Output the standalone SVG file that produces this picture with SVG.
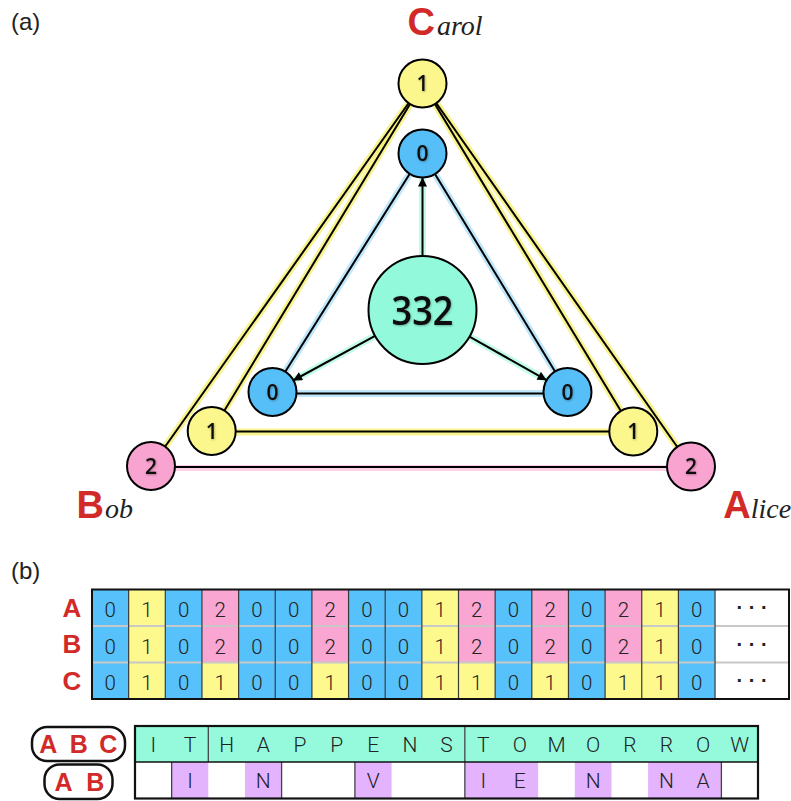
<svg xmlns="http://www.w3.org/2000/svg" width="791" height="801" viewBox="0 0 791 801">
<defs>
<marker id="arr" viewBox="0 0 10 10" refX="10" refY="5" markerWidth="11" markerHeight="9" markerUnits="userSpaceOnUse" orient="auto"><path d="M0,0 L10,5 L0,10 z" fill="#000"/></marker>
<filter id="sh" x="-20%" y="-20%" width="140%" height="140%"><feDropShadow dx="0.6" dy="0.8" stdDeviation="0.8" flood-color="#000" flood-opacity="0.35"/></filter>
</defs>
<style>
.lbl{font-family:"Liberation Sans",Arial,sans-serif;font-size:24px;fill:#222}
.nd{stroke:#000;stroke-width:2}
.ny{fill:#fcf78c}.nb{fill:#56bff8}.np{fill:#f9a3d0}.nm{fill:#92fadb}
.nt{font-family:"Open Sans","Noto Sans",sans-serif;font-weight:600;font-size:21px;fill:#111;text-anchor:middle;filter:url(#sh)}
.big{font-family:"Liberation Sans",Arial,sans-serif;font-weight:bold;font-size:38px;fill:#d22a28}
.sub{font-family:"Liberation Serif","Times New Roman",serif;font-style:italic;font-size:28px;fill:#222}
.e{stroke:#000;stroke-width:2;fill:none}
.gy{stroke:#f6ef6a;stroke-width:7;opacity:0.75;fill:none}
.gb{stroke:#bfe6fb;stroke-width:7;fill:none}
.gp{stroke:#fbd2e6;stroke-width:6;fill:none}
.gm{stroke:#c3fbe9;stroke-width:7;fill:none}
.cb{fill:#56c1fb}.cy{fill:#fdf98d}.cp{fill:#f9a6d2}.cm{fill:#94fadb}.cu{fill:#e3b3fd}
.ct{font-family:Roboto,"Liberation Sans",sans-serif;font-weight:300;font-size:20.5px;fill:#222;text-anchor:middle}
.rl{font-family:"Liberation Sans",Arial,sans-serif;font-weight:bold;font-size:26px;fill:#d22a28;text-anchor:middle}
.pl{font-family:"Liberation Sans",Arial,sans-serif;font-weight:bold;font-size:25px;fill:#d22a28;text-anchor:middle}
.vd{stroke:#3a3a3a;stroke-width:1.2}
.hd{stroke:#c8c8c8;stroke-width:2}
.dots{font-family:"Liberation Sans",Arial,sans-serif;font-weight:bold;font-size:20px;fill:#222;text-anchor:middle}
</style>
<rect width="791" height="801" fill="#fff"/>
<text class="lbl" x="11" y="30">(a)</text>
<text class="lbl" x="11" y="578.5">(b)</text>

<g id="connectors">
<!-- glows -->
<line class="gy" x1="422.5" y1="83.5" x2="151" y2="466.5"/>
<line class="gy" x1="422.5" y1="83.5" x2="211.7" y2="431.5"/>
<line class="gy" x1="422.5" y1="83.5" x2="633.3" y2="431.5"/>
<line class="gy" x1="422.5" y1="83.5" x2="691" y2="466.5"/>
<line class="gy" x1="211.7" y1="432" x2="633.3" y2="432"/>
<line class="gp" x1="151" y1="468" x2="691" y2="468"/>
<line class="gb" x1="422.5" y1="153.5" x2="272.5" y2="392"/>
<line class="gb" x1="422.5" y1="153.5" x2="567.5" y2="392"/>
<line class="gb" x1="272.5" y1="393.5" x2="567.5" y2="393.5"/>
<line class="gm" x1="422.5" y1="256" x2="422.5" y2="178"/>
<line class="gm" x1="375.1" y1="335.8" x2="293.1" y2="380.5"/>
<line class="gm" x1="469.5" y1="336.6" x2="546.6" y2="380.2"/>
<!-- lines -->
<line class="e" x1="422.5" y1="83.5" x2="151" y2="466.5"/>
<line class="e" x1="422.5" y1="83.5" x2="211.7" y2="431.5"/>
<line class="e" x1="422.5" y1="83.5" x2="633.3" y2="431.5"/>
<line class="e" x1="422.5" y1="83.5" x2="691" y2="466.5"/>
<line class="e" x1="211.7" y1="431.5" x2="633.3" y2="431.5"/>
<line class="e" x1="151" y1="467" x2="691" y2="467"/>
<line class="e" x1="422.5" y1="153.5" x2="272.5" y2="392"/>
<line class="e" x1="422.5" y1="153.5" x2="567.5" y2="392"/>
<line class="e" x1="272.5" y1="393.5" x2="567.5" y2="393.5"/>
<line class="e" x1="422.5" y1="256" x2="422.5" y2="177.5" marker-end="url(#arr)"/>
<line class="e" x1="375.1" y1="335.8" x2="293.1" y2="380.5" marker-end="url(#arr)"/>
<line class="e" x1="469.5" y1="336.6" x2="546.6" y2="380.2" marker-end="url(#arr)"/>
</g>

<g id="carol1"><circle class="nd ny" cx="422.5" cy="83.5" r="24"/><text class="nt" x="422.5" y="91">1</text></g>
<g id="blueTop"><circle class="nd nb" cx="422.5" cy="153.5" r="24"/><text class="nt" x="422.5" y="161">0</text></g>
<g id="center332"><circle class="nd nm" cx="422.5" cy="310" r="54"/><text class="nt" x="422.5" y="325" style="font-size:40px" textLength="62" lengthAdjust="spacingAndGlyphs">332</text></g>
<g id="blueLeft"><circle class="nd nb" cx="272.5" cy="392" r="24"/><text class="nt" x="272.5" y="399.5">0</text></g>
<g id="blueRight"><circle class="nd nb" cx="567.5" cy="392" r="24"/><text class="nt" x="567.5" y="399.5">0</text></g>
<g id="yellowLeft"><circle class="nd ny" cx="211.7" cy="431" r="24"/><text class="nt" x="211.7" y="438.5">1</text></g>
<g id="yellowRight"><circle class="nd ny" cx="633.3" cy="431.5" r="24"/><text class="nt" x="633.3" y="439">1</text></g>
<g id="bob2"><circle class="nd np" cx="151" cy="466" r="24"/><text class="nt" x="151" y="473.5">2</text></g>
<g id="alice2"><circle class="nd np" cx="691" cy="466.5" r="24"/><text class="nt" x="691" y="474">2</text></g>

<g id="labelCarol"><text x="407.5" y="34.5"><tspan class="big">C</tspan><tspan class="sub" dx="2">arol</tspan></text></g>
<g id="labelBob"><text x="76.5" y="518"><tspan class="big">B</tspan><tspan class="sub" dx="1">ob</tspan></text></g>
<g id="labelAlice"><text x="723.3" y="518"><tspan class="big">A</tspan><tspan class="sub">lice</tspan></text></g>

<g id="tableB">
<text class="rl" x="72" y="616.5">A</text>
<text class="rl" x="72" y="653">B</text>
<text class="rl" x="72" y="689.5">C</text>
<rect x="92" y="589.5" width="697" height="109.5" fill="#fff"/>
<!-- row A -->
<rect class="cb" x="92" y="589.5" width="36.65" height="36.5"/>
<rect class="cy" x="128.65" y="589.5" width="36.65" height="36.5"/>
<rect class="cb" x="165.3" y="589.5" width="36.65" height="36.5"/>
<rect class="cp" x="201.95" y="589.5" width="36.65" height="36.5"/>
<rect class="cb" x="238.6" y="589.5" width="36.65" height="36.5"/>
<rect class="cb" x="275.25" y="589.5" width="36.65" height="36.5"/>
<rect class="cp" x="311.9" y="589.5" width="36.65" height="36.5"/>
<rect class="cb" x="348.55" y="589.5" width="36.65" height="36.5"/>
<rect class="cb" x="385.2" y="589.5" width="36.65" height="36.5"/>
<rect class="cy" x="421.85" y="589.5" width="36.65" height="36.5"/>
<rect class="cp" x="458.5" y="589.5" width="36.65" height="36.5"/>
<rect class="cb" x="495.15" y="589.5" width="36.65" height="36.5"/>
<rect class="cp" x="531.8" y="589.5" width="36.65" height="36.5"/>
<rect class="cb" x="568.45" y="589.5" width="36.65" height="36.5"/>
<rect class="cp" x="605.1" y="589.5" width="36.65" height="36.5"/>
<rect class="cy" x="641.75" y="589.5" width="36.65" height="36.5"/>
<rect class="cb" x="678.4" y="589.5" width="36.65" height="36.5"/>
<!-- row B -->
<rect class="cb" x="92" y="626" width="36.65" height="36.5"/>
<rect class="cy" x="128.65" y="626" width="36.65" height="36.5"/>
<rect class="cb" x="165.3" y="626" width="36.65" height="36.5"/>
<rect class="cp" x="201.95" y="626" width="36.65" height="36.5"/>
<rect class="cb" x="238.6" y="626" width="36.65" height="36.5"/>
<rect class="cb" x="275.25" y="626" width="36.65" height="36.5"/>
<rect class="cp" x="311.9" y="626" width="36.65" height="36.5"/>
<rect class="cb" x="348.55" y="626" width="36.65" height="36.5"/>
<rect class="cb" x="385.2" y="626" width="36.65" height="36.5"/>
<rect class="cy" x="421.85" y="626" width="36.65" height="36.5"/>
<rect class="cp" x="458.5" y="626" width="36.65" height="36.5"/>
<rect class="cb" x="495.15" y="626" width="36.65" height="36.5"/>
<rect class="cp" x="531.8" y="626" width="36.65" height="36.5"/>
<rect class="cb" x="568.45" y="626" width="36.65" height="36.5"/>
<rect class="cp" x="605.1" y="626" width="36.65" height="36.5"/>
<rect class="cy" x="641.75" y="626" width="36.65" height="36.5"/>
<rect class="cb" x="678.4" y="626" width="36.65" height="36.5"/>
<!-- row C -->
<rect class="cb" x="92" y="662.5" width="36.65" height="36.5"/>
<rect class="cy" x="128.65" y="662.5" width="36.65" height="36.5"/>
<rect class="cb" x="165.3" y="662.5" width="36.65" height="36.5"/>
<rect class="cy" x="201.95" y="662.5" width="36.65" height="36.5"/>
<rect class="cb" x="238.6" y="662.5" width="36.65" height="36.5"/>
<rect class="cb" x="275.25" y="662.5" width="36.65" height="36.5"/>
<rect class="cy" x="311.9" y="662.5" width="36.65" height="36.5"/>
<rect class="cb" x="348.55" y="662.5" width="36.65" height="36.5"/>
<rect class="cb" x="385.2" y="662.5" width="36.65" height="36.5"/>
<rect class="cy" x="421.85" y="662.5" width="36.65" height="36.5"/>
<rect class="cy" x="458.5" y="662.5" width="36.65" height="36.5"/>
<rect class="cb" x="495.15" y="662.5" width="36.65" height="36.5"/>
<rect class="cy" x="531.8" y="662.5" width="36.65" height="36.5"/>
<rect class="cb" x="568.45" y="662.5" width="36.65" height="36.5"/>
<rect class="cy" x="605.1" y="662.5" width="36.65" height="36.5"/>
<rect class="cy" x="641.75" y="662.5" width="36.65" height="36.5"/>
<rect class="cb" x="678.4" y="662.5" width="36.65" height="36.5"/>
<!-- dividers -->
<line class="hd" x1="92" y1="626" x2="789" y2="626"/>
<line class="hd" x1="92" y1="662.5" x2="789" y2="662.5"/>
<g class="vd">
<line x1="128.65" y1="589.5" x2="128.65" y2="699"/><line x1="165.3" y1="589.5" x2="165.3" y2="699"/>
<line x1="201.95" y1="589.5" x2="201.95" y2="699"/><line x1="238.6" y1="589.5" x2="238.6" y2="699"/>
<line x1="275.25" y1="589.5" x2="275.25" y2="699"/><line x1="311.9" y1="589.5" x2="311.9" y2="699"/>
<line x1="348.55" y1="589.5" x2="348.55" y2="699"/><line x1="385.2" y1="589.5" x2="385.2" y2="699"/>
<line x1="421.85" y1="589.5" x2="421.85" y2="699"/><line x1="458.5" y1="589.5" x2="458.5" y2="699"/>
<line x1="495.15" y1="589.5" x2="495.15" y2="699"/><line x1="531.8" y1="589.5" x2="531.8" y2="699"/>
<line x1="568.45" y1="589.5" x2="568.45" y2="699"/><line x1="605.1" y1="589.5" x2="605.1" y2="699"/>
<line x1="641.75" y1="589.5" x2="641.75" y2="699"/><line x1="678.4" y1="589.5" x2="678.4" y2="699"/>
<line x1="715.05" y1="589.5" x2="715.05" y2="699"/>
</g>
<rect x="92" y="589.5" width="697" height="109.5" fill="none" stroke="#111" stroke-width="2"/>
<!-- digits -->
<g class="ct">
<text x="110.3" y="617">0</text><text x="147" y="617">1</text><text x="183.6" y="617">0</text><text x="220.3" y="617">2</text><text x="256.9" y="617">0</text><text x="293.6" y="617">0</text><text x="330.2" y="617">2</text><text x="366.9" y="617">0</text><text x="403.5" y="617">0</text><text x="440.2" y="617">1</text><text x="476.8" y="617">2</text><text x="513.5" y="617">0</text><text x="550.1" y="617">2</text><text x="586.8" y="617">0</text><text x="623.4" y="617">2</text><text x="660.1" y="617">1</text><text x="696.7" y="617">0</text>
<text x="110.3" y="654">0</text><text x="147" y="654">1</text><text x="183.6" y="654">0</text><text x="220.3" y="654">2</text><text x="256.9" y="654">0</text><text x="293.6" y="654">0</text><text x="330.2" y="654">2</text><text x="366.9" y="654">0</text><text x="403.5" y="654">0</text><text x="440.2" y="654">1</text><text x="476.8" y="654">2</text><text x="513.5" y="654">0</text><text x="550.1" y="654">2</text><text x="586.8" y="654">0</text><text x="623.4" y="654">2</text><text x="660.1" y="654">1</text><text x="696.7" y="654">0</text>
<text x="110.3" y="690">0</text><text x="147" y="690">1</text><text x="183.6" y="690">0</text><text x="220.3" y="690">1</text><text x="256.9" y="690">0</text><text x="293.6" y="690">0</text><text x="330.2" y="690">1</text><text x="366.9" y="690">0</text><text x="403.5" y="690">0</text><text x="440.2" y="690">1</text><text x="476.8" y="690">1</text><text x="513.5" y="690">0</text><text x="550.1" y="690">1</text><text x="586.8" y="690">0</text><text x="623.4" y="690">1</text><text x="660.1" y="690">1</text><text x="696.7" y="690">0</text>
</g>
<text class="dots" x="752" y="614.3">· · ·</text>
<text class="dots" x="752" y="650.6">· · ·</text>
<text class="dots" x="752" y="687.3">· · ·</text>
</g>

<g id="pillABC"><rect x="32" y="727" width="93" height="34" rx="15" fill="#fff" stroke="#111" stroke-width="2.5"/>
<text class="pl" x="48.3" y="753">A</text><text class="pl" x="78.8" y="753">B</text><text class="pl" x="108.3" y="753">C</text></g>
<g id="pillAB"><rect x="44.5" y="764.5" width="68" height="34.5" rx="15" fill="#fff" stroke="#111" stroke-width="2.5"/>
<text class="pl" x="63.5" y="791">A</text><text class="pl" x="95.3" y="791">B</text></g>

<g id="tableMessage">
<rect class="cm" x="135" y="726" width="623" height="36"/>
<rect x="135" y="762" width="623" height="36.5" fill="#fff"/>
<rect class="cu" x="171.65" y="762" width="36.65" height="36.5"/>
<rect class="cu" x="244.95" y="762" width="36.65" height="36.5"/>
<rect class="cu" x="354.9" y="762" width="36.65" height="36.5"/>
<rect class="cu" x="464.85" y="762" width="73.3" height="36.5"/>
<rect class="cu" x="574.8" y="762" width="36.65" height="36.5"/>
<rect class="cu" x="648.1" y="762" width="73.3" height="36.5"/>
<g stroke="#444" stroke-width="1.3">
<line x1="208.3" y1="726" x2="208.3" y2="762"/>
<line x1="464.85" y1="726" x2="464.85" y2="798.5"/>
<line x1="171.65" y1="762" x2="171.65" y2="798.5"/>
<line x1="281.6" y1="762" x2="281.6" y2="798.5"/>
<line x1="354.9" y1="762" x2="354.9" y2="798.5"/>
<line x1="721.4" y1="762" x2="721.4" y2="798.5"/>
</g>
<line x1="135" y1="762" x2="758" y2="762" stroke="#111" stroke-width="1.5"/>
<rect x="135" y="726" width="623" height="72.5" fill="none" stroke="#111" stroke-width="2.2"/>
<g class="ct" style="font-size:21px">
<text x="153.3" y="751.7">I</text><text x="190" y="751.7">T</text><text x="226.6" y="751.7">H</text><text x="263.3" y="751.7">A</text><text x="299.9" y="751.7">P</text><text x="336.6" y="751.7">P</text><text x="373.2" y="751.7">E</text><text x="409.9" y="751.7">N</text><text x="446.5" y="751.7">S</text><text x="483.2" y="751.7">T</text><text x="519.8" y="751.7">O</text><text x="556.5" y="751.7">M</text><text x="593.1" y="751.7">O</text><text x="629.8" y="751.7">R</text><text x="666.4" y="751.7">R</text><text x="703.1" y="751.7">O</text><text x="739.7" y="751.7">W</text>
<text x="190" y="788">I</text><text x="263.3" y="788">N</text><text x="373.2" y="788">V</text><text x="483.2" y="788">I</text><text x="519.8" y="788">E</text><text x="593.1" y="788">N</text><text x="666.4" y="788">N</text><text x="703.1" y="788">A</text>
</g>
</g>
</svg>
